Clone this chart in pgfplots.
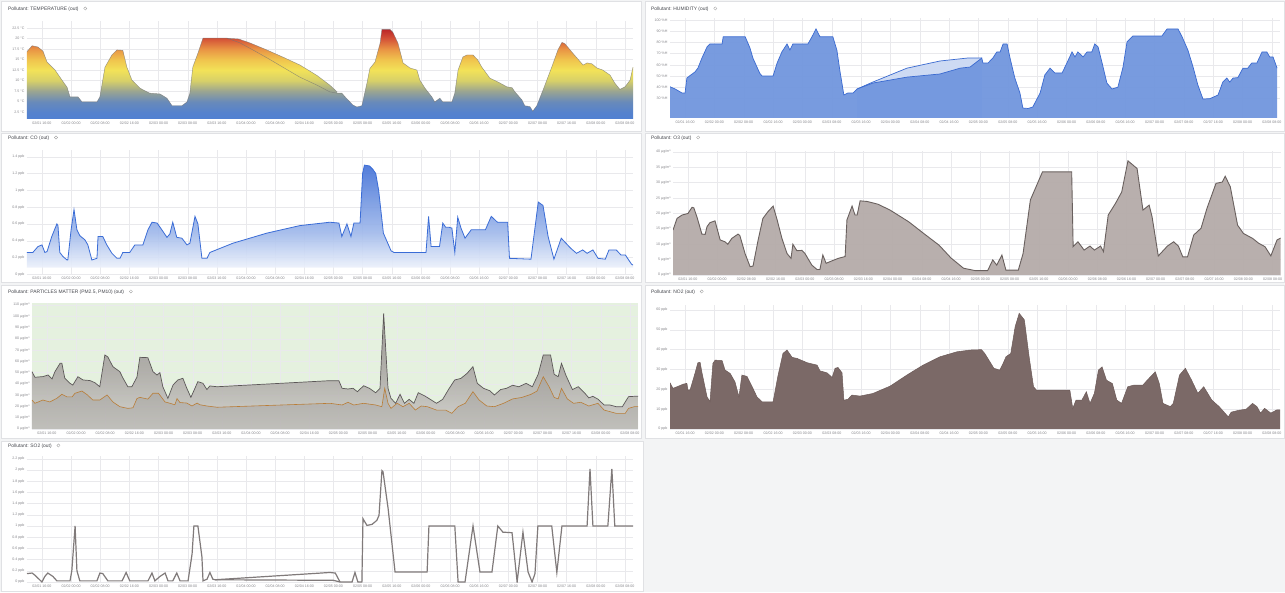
\documentclass[border=0pt]{standalone}
\usepackage{fontspec}
\setmainfont{Liberation Sans}
\usepackage{pgfplots}
\pgfplotsset{compat=1.18}
\usepackage{pgfplotstable}

\definecolor{bgpage}{RGB}{243,244,245}
\definecolor{panelline}{RGB}{224,225,228}
\definecolor{gridc}{RGB}{233,233,236}
\definecolor{ticktext}{RGB}{135,135,140}
\definecolor{titletext}{RGB}{70,72,78}
% temperature gradient
\definecolor{t0}{RGB}{80,128,210}
\definecolor{t1}{RGB}{85,130,205}
\definecolor{t2}{RGB}{105,138,185}
\definecolor{t3}{RGB}{155,165,145}
\definecolor{t4}{RGB}{215,208,105}
\definecolor{t5}{RGB}{242,226,88}
\definecolor{t6}{RGB}{240,196,78}
\definecolor{t7}{RGB}{233,148,68}
\definecolor{t8}{RGB}{212,82,55}
\definecolor{t9}{RGB}{188,38,40}
\pgfdeclareverticalshading{tempmain}{100bp}{color(0bp)=(t0); color(25bp)=(t0); color(28.9bp)=(t1); color(34.7bp)=(t2); color(40.6bp)=(t3); color(46.4bp)=(t4); color(52.3bp)=(t5); color(58.1bp)=(t6); color(64bp)=(t7); color(69.9bp)=(t8); color(75bp)=(t9); color(100bp)=(t9)}
\pgfdeclareverticalshading{templens}{100bp}{color(0bp)=(t0); color(25bp)=(t0); color(29.3bp)=(t1); color(35.8bp)=(t2); color(42.3bp)=(t3); color(48.8bp)=(t4); color(55.3bp)=(t5); color(61.8bp)=(t6); color(68.2bp)=(t7); color(74.7bp)=(t8); color(75bp)=(t8); color(100bp)=(t8)}
% CO gradient
\definecolor{co0}{RGB}{236,241,251}
\definecolor{co1}{RGB}{160,185,235}
\definecolor{co2}{RGB}{65,112,215}
\pgfdeclareverticalshading{coshade}{100bp}{color(0bp)=(co0); color(25bp)=(co0); color(42bp)=(co1); color(75bp)=(co2); color(100bp)=(co2)}
\definecolor{coline}{RGB}{58,108,214}
% humidity
\definecolor{humfill}{RGB}{113,150,222}
\definecolor{humlens}{RGB}{205,218,243}
\definecolor{humline}{RGB}{58,106,208}
% O3
\definecolor{othreefill}{RGB}{181,171,169}
\definecolor{othreeline}{RGB}{105,96,94}
% PM
\definecolor{pmgreen}{RGB}{229,241,223}
\definecolor{pm0}{RGB}{206,204,201}
\definecolor{pm1}{RGB}{165,160,158}
\definecolor{pm2}{RGB}{140,135,133}
\pgfdeclareverticalshading{pmshade}{100bp}{color(0bp)=(pm0); color(25bp)=(pm0); color(50bp)=(pm1); color(75bp)=(pm2); color(100bp)=(pm2)}
\definecolor{pmtenline}{RGB}{92,88,88}
\definecolor{pmtwoline}{RGB}{185,125,55}
% NO2
\definecolor{notwofill}{RGB}{123,105,103}
\definecolor{notwoline}{RGB}{108,90,88}
% SO2
\definecolor{sotwoline}{RGB}{128,122,122}

\pgfplotsset{
  dash/.style={
    scale only axis, anchor=south west,
    xmin=11.9, xmax=178.2,
    xtick={16,24,...,176},
    xticklabels={02/01 16:00,02/02 00:00,02/02 08:00,02/02 16:00,02/03 00:00,02/03 08:00,02/03 16:00,02/04 00:00,02/04 08:00,02/04 16:00,02/05 00:00,02/05 08:00,02/05 16:00,02/06 00:00,02/06 08:00,02/06 16:00,02/07 00:00,02/07 08:00,02/07 16:00,02/08 00:00,02/08 08:00},
    grid=major,
    major grid style={draw=gridc, line width=0.4pt},
    axis line style={draw=none},
    tick style={draw=none},
    tick label style={font=\fontsize{3.6}{4}\selectfont, text=ticktext},
    /pgf/number format/assume math mode=true,
    xticklabel style={yshift=1pt},
    yticklabel style={xshift=1pt},
  },
}
\tikzset{ttl/.style={anchor=west, font=\fontsize{4.9}{5.5}\selectfont, text=titletext, inner sep=0pt}}

% ---------------- data ----------------
\pgfplotstableread[row sep=\\]{
x y\\
11.9 16.9\\ 13.3 18.3\\ 14.9 18.0\\ 16.3 17.0\\ 17.4 14.4\\ 19.6 12.5\\ 21.5 10.1\\ 22.9 8.4\\ 23.7 6.1\\ 25.9 6.1\\
27.0 4.9\\ 31.1 4.9\\ 31.9 6.1\\ 33.3 13.2\\ 35.2 16.1\\ 36.6 17.3\\ 38.2 17.2\\ 39.3 13.2\\ 40.7 10.1\\ 42.9 8.2\\
43.7 7.8\\ 45.6 7.0\\ 48.4 6.8\\ 50.3 5.8\\ 51.7 4.0\\ 54.4 4.0\\ 55.8 4.9\\ 56.6 7.0\\ 57.4 13.2\\ 58.8 16.5\\
60.2 20.1\\ 66.8 20.1\\ 70.3 19.0\\ 73.9 17.3\\ 78.0 15.3\\ 82.1 13.2\\ 86.8 10.8\\ 91.5 8.9\\ 95.0 7.3\\ 97.0 7.0\\
98.3 7.0\\ 99.2 6.1\\ 101.3 4.2\\ 102.4 3.7\\ 103.8 4.0\\ 105.2 9.4\\ 106.0 12.9\\ 107.4 14.4\\ 108.8 18.9\\ 109.3 22.2\\
111.5 22.2\\ 112.3 21.5\\ 113.7 18.9\\ 115.1 14.2\\ 117.0 13.0\\ 118.9 12.5\\ 119.7 10.1\\ 121.1 8.2\\ 123.0 6.1\\ 123.8 4.9\\
125.2 5.8\\ 126.0 4.9\\ 128.5 4.9\\ 129.3 7.0\\ 130.2 12.5\\ 131.5 15.6\\ 132.6 16.1\\ 134.3 16.1\\ 135.6 14.9\\ 136.7 13.2\\
138.9 10.6\\ 141.7 9.4\\ 143.6 8.5\\ 145.0 8.3\\ 145.8 7.3\\ 147.7 5.4\\ 148.5 4.0\\ 149.9 3.8\\ 150.7 2.7\\ 151.8 4.0\\
153.5 7.7\\ 155.9 13.2\\ 157.6 17.3\\ 158.7 19.1\\ 159.5 18.8\\ 161.7 16.5\\ 164.5 13.7\\ 165.6 14.2\\ 166.9 14.0\\ 168.3 13.0\\
169.9 12.5\\ 171.9 11.3\\ 173.2 9.4\\ 174.6 7.9\\ 176.0 8.5\\ 177.4 10.1\\ 178.2 13.2\\
}\Ttemp
\pgfplotstableread[row sep=\\]{
x y\\
66.8 20.1\\ 70.0 19.9\\ 73.0 19.0\\ 77.7 17.3\\ 82.1 15.6\\ 86.8 13.7\\ 91.5 11.2\\ 95.0 8.9\\ 97.0 7.3\\
}\Ttemplens

\pgfplotstableread[row sep=\\]{
x y\\
11.9 40.4\\ 13.3 38.4\\ 15.2 34.8\\ 16.0 34.8\\ 16.5 48.2\\ 17.4 50.5\\ 18.7 53.6\\ 19.5 57\\ 20.6 66\\ 22.0 76\\
22.8 78.6\\ 26.1 78.6\\ 26.4 85\\ 32.4 85\\ 33.7 75\\ 34.5 66\\ 35.6 58\\ 36.4 52.3\\ 37.0 50\\ 40.0 50\\
41.1 61.6\\ 42.4 71.5\\ 43.8 78.6\\ 44.6 73.2\\ 45.4 78.6\\ 49.5 78.6\\ 50.6 85\\ 51.7 92\\ 52.8 85\\ 56.3 85\\
57.4 73\\ 58.2 55\\ 59.3 33\\ 60.4 34.8\\ 61.8 34.8\\ 62.9 38.4\\ 67.2 43.7\\ 76.5 49\\ 85.5 51.8\\ 91.0 57\\
93.7 58\\ 96.9 66\\ 97.2 61.6\\ 98.6 61.6\\ 99.9 66\\ 101.0 71.5\\ 101.9 71.5\\ 102.7 78.6\\ 103.8 78.6\\ 104.6 66\\
105.9 48.2\\ 107.3 34.8\\ 108.1 21.4\\ 109.5 21.0\\ 110.8 22.3\\ 112.8 34.8\\ 114.1 51\\ 115.5 57\\ 116.8 52.7\\ 118.8 52.7\\
120.1 61.6\\ 121.5 71.5\\ 122.3 67\\ 123.1 71.5\\ 124.5 67\\ 125.6 71.5\\ 126.9 71.5\\ 127.7 78.6\\ 128.6 76\\ 129.7 61.6\\
131.0 43.7\\ 132.4 38.4\\ 134.0 40\\ 135.4 58\\ 136.5 80.5\\ 138.1 85.7\\ 146.0 85.7\\ 147.4 92\\ 150.4 92\\ 151.5 85\\
153.1 73\\ 154.5 58\\ 155.8 42\\ 157.2 29.4\\ 159.1 29.8\\ 161.3 33\\ 162.6 44.6\\ 163.7 48.2\\ 164.5 44.6\\ 165.4 48.2\\
166.7 48.5\\ 168.1 57\\ 169.4 57\\ 170.5 61.6\\ 171.9 61.6\\ 173.3 71.5\\ 174.6 71.5\\ 175.4 67\\ 176.3 67\\ 177.4 57\\
}\Thum
\pgfplotstableread[row sep=\\]{
x y\\
62.9 38.4\\ 67.2 44.6\\ 76.5 57\\ 85.5 63.4\\ 92.9 66\\ 96.9 66\\
}\Thumlens

\pgfplotstableread[row sep=\\]{
x y\\
11.9 0.26\\ 13.5 0.26\\ 14.9 0.33\\ 16.0 0.35\\ 16.8 0.26\\ 17.4 0.27\\ 18.7 0.45\\ 20.1 0.6\\ 20.4 0.58\\ 20.9 0.26\\
21.8 0.21\\ 22.9 0.17\\ 23.1 0.17\\ 24.0 0.53\\ 24.8 0.77\\ 25.6 0.53\\ 26.4 0.46\\ 27.8 0.41\\ 28.6 0.35\\ 29.7 0.17\\
31.1 0.19\\ 31.4 0.45\\ 32.7 0.45\\ 33.8 0.35\\ 35.2 0.25\\ 36.6 0.19\\ 37.4 0.19\\ 38.2 0.26\\ 40.1 0.26\\ 41.5 0.35\\
43.7 0.35\\ 45.1 0.53\\ 46.2 0.62\\ 47.6 0.61\\ 48.9 0.53\\ 50.3 0.44\\ 51.1 0.48\\ 51.9 0.62\\ 53.0 0.44\\ 54.4 0.43\\
55.8 0.35\\ 56.6 0.37\\ 58.0 0.69\\ 58.8 0.6\\ 59.9 0.19\\ 61.3 0.19\\ 62.1 0.26\\ 68.4 0.37\\ 77.7 0.49\\ 86.8 0.58\\
95.0 0.62\\ 97.5 0.61\\ 98.3 0.45\\ 99.7 0.6\\ 100.8 0.45\\ 101.6 0.61\\ 103.3 0.61\\ 104.0 1.2\\ 104.5 1.3\\ 105.9 1.29\\
106.8 1.25\\ 107.6 1.2\\ 108.4 1.0\\ 109.7 0.49\\ 111.8 0.28\\ 112.6 0.26\\ 121.4 0.26\\ 122.1 0.69\\ 122.8 0.33\\ 125.1 0.33\\
126.0 0.61\\ 126.8 0.56\\ 127.7 0.56\\ 128.5 0.55\\ 129.3 0.26\\ 130.1 0.68\\ 131.0 0.55\\ 132.1 0.43\\ 133.8 0.53\\ 137.7 0.53\\
139.3 0.69\\ 141.0 0.62\\ 143.8 0.62\\ 144.3 0.19\\ 150.2 0.18\\ 152.2 0.86\\ 153.5 0.82\\ 154.9 0.45\\ 156.5 0.18\\ 158.5 0.43\\
161.1 0.31\\ 162.7 0.25\\ 164.4 0.29\\ 165.6 0.25\\ 167.2 0.29\\ 168.6 0.19\\ 170.6 0.18\\ 171.6 0.29\\ 173.6 0.29\\ 174.9 0.23\\
176.1 0.23\\ 177.8 0.12\\ 178.2 0.11\\
}\Tco

\pgfplotstableread[row sep=\\]{
x y\\
11.9 14.6\\ 13.0 18.4\\ 14.4 19.5\\ 16.0 20\\ 17.1 22\\ 17.6 21.8\\ 18.5 18.7\\ 19.8 13.3\\ 20.7 13.2\\ 21.2 15.7\\
22.0 17\\ 23.4 17.6\\ 24.8 11.4\\ 26.1 10.8\\ 26.9 10\\ 28.0 11.9\\ 29.7 13.3\\ 30.2 12.8\\ 31.6 7\\ 33.0 2.7\\
33.8 2.9\\ 35.2 11.4\\ 36.5 18.4\\ 37.9 20.6\\ 39.3 22.4\\ 40.4 17.9\\ 41.7 11.9\\ 43.1 7\\ 44.2 5.4\\ 44.7 10\\
45.8 7.9\\ 47.2 8.0\\ 48.0 7.0\\ 49.9 3.2\\ 51.3 1.8\\ 52.1 1.8\\ 52.9 6.5\\ 53.8 3.8\\ 55.4 4.6\\ 57.1 5.4\\
59.0 6.0\\ 59.5 17.9\\ 60.9 22.4\\ 61.7 19.5\\ 62.3 19.5\\ 63.1 24.1\\ 65.0 23.9\\ 68.0 23.0\\ 71.3 21.1\\ 76.4 17.3\\
80.5 13.5\\ 84.7 9.7\\ 88.0 5.5\\ 91.4 2.2\\ 94.7 1.4\\ 98.0 1.4\\ 99.4 4.9\\ 100.5 3.2\\ 101.9 6.5\\ 103.0 1.6\\
106.4 1.6\\ 107.7 7.0\\ 109.7 24.4\\ 113.0 33.5\\ 121.0 33.5\\ 121.4 9.2\\ 122.7 10.8\\ 124.4 8.1\\ 126.0 9.4\\ 127.2 8.1\\
128.9 9.4\\ 129.7 7.6\\ 131.0 19.5\\ 133.0 23.3\\ 134.7 27\\ 136.4 37.1\\ 138.9 34.6\\ 140.5 21.1\\ 142.2 22.7\\ 143.0 18.9\\
144.7 6.2\\ 147.2 9.4\\ 148.9 10.8\\ 150.2 9.4\\ 151.4 5.9\\ 152.7 5.9\\ 154.4 13\\ 156.4 15.2\\ 158.0 21.6\\ 160.5 29.8\\
162.2 30.2\\ 163.0 32.1\\ 164.4 28.7\\ 166.4 16.2\\ 168.0 13.5\\ 170.5 11.9\\ 172.2 10.3\\ 173.9 9.2\\ 175.5 6.2\\ 177.2 11.4\\
178.2 12\\
}\Tothree

\pgfplotstableread[row sep=\\]{
x y\\
11.9 50.9\\ 12.7 45.9\\ 14.9 46.5\\ 16.3 47.9\\ 17.4 44.4\\ 18.2 50.9\\ 19.6 58.3\\ 20.1 58.3\\ 20.9 45\\ 22.3 40.6\\
23.1 39\\ 24.5 46.4\\ 25.9 43.5\\ 27.8 43\\ 29.2 41\\ 30.5 37.5\\ 31.9 65.7\\ 32.7 64\\ 34.1 55.3\\ 36.0 50.9\\
36.9 45\\ 38.2 37.5\\ 39.3 37.5\\ 40.7 46\\ 41.5 63.6\\ 43.7 63.3\\ 45.1 50.9\\ 46.2 47.9\\ 47.0 50\\ 47.8 37.5\\
49.2 27.2\\ 50.6 39\\ 51.9 43.5\\ 53.3 45\\ 54.4 36\\ 55.5 28.1\\ 56.6 36\\ 57.4 42\\ 58.8 40.6\\ 59.9 35\\
60.7 38.2\\ 62.7 37.5\\ 93.7 42.9\\ 96.1 42.9\\ 97.0 36.1\\ 98.6 35.5\\ 100.0 36.1\\ 101.2 33.1\\ 102.9 38.4\\ 104.5 36.1\\
106.2 32.2\\ 107.4 36.1\\ 108.4 102.6\\ 109.6 36.1\\ 110.4 27.2\\ 111.7 22.8\\ 112.9 30.8\\ 114.1 22.8\\ 115.4 26.3\\ 116.7 22.8\\
117.9 32.2\\ 119.6 29.5\\ 121.2 26.3\\ 122.9 22.8\\ 124.6 26.3\\ 126.3 35.6\\ 127.9 43.5\\ 129.6 44.9\\ 131.3 49.4\\ 132.9 55.3\\
134.1 40.5\\ 135.8 36.1\\ 137.5 34\\ 138.8 30.2\\ 140.5 35\\ 142.1 36.1\\ 143.8 38.8\\ 145.5 37.5\\ 147.5 40.5\\ 149.2 37.5\\
150.8 48.5\\ 152.2 65.7\\ 154.2 65.7\\ 155.2 48.5\\ 156.3 46.4\\ 157.2 58.3\\ 158.5 47\\ 160.2 35\\ 161.8 37.5\\ 163.5 32.2\\
164.7 27.6\\ 165.8 29\\ 167.2 26.5\\ 168.9 21.3\\ 170.5 21.3\\ 172.2 19.8\\ 173.9 19.8\\ 175.6 28.7\\ 177.2 29\\ 178.2 29\\
}\Tpmten
\pgfplotstableread[row sep=\\]{
x y\\
11.9 25.7\\ 12.7 22.8\\ 14.9 25.7\\ 16.8 24\\ 18.7 27.2\\ 20.1 30.8\\ 21.5 28.5\\ 22.9 28.5\\ 23.7 31.7\\ 25.6 33.7\\
27.0 30.5\\ 28.6 25.7\\ 30.5 25.7\\ 32.5 30.2\\ 34.1 24\\ 36.0 19.8\\ 38.2 18.3\\ 39.6 18.8\\ 40.7 27\\ 41.5 28.1\\
43.7 26.5\\ 45.1 31.7\\ 46.6 31.7\\ 48.4 24\\ 49.8 22.8\\ 51.1 21.5\\ 51.7 27\\ 52.5 23.5\\ 54.4 23\\ 55.8 20.4\\
57.2 23\\ 58.0 21.5\\ 59.9 20.4\\ 62.7 19.3\\ 93.7 22.8\\ 97.0 21.3\\ 98.6 23.7\\ 100.2 21.3\\ 102.9 22.8\\ 106.2 21.3\\
107.9 19.8\\ 108.7 36.1\\ 109.6 22.8\\ 110.4 18.3\\ 112.1 22.8\\ 113.7 19.8\\ 115.4 22.8\\ 117.1 16.8\\ 118.7 20.4\\ 120.4 19.8\\
122.9 16.8\\ 125.4 16.8\\ 127.1 13.9\\ 128.8 19.8\\ 130.8 22.8\\ 132.9 33.1\\ 134.6 25.7\\ 136.7 20.4\\ 138.8 19.8\\ 141.3 22.8\\
143.8 26.7\\ 146.3 28\\ 148.8 30.7\\ 150.5 33.7\\ 152.2 46.4\\ 153.8 37.5\\ 155.2 28\\ 156.3 26.7\\ 157.2 36.1\\ 158.8 26.7\\
160.5 22.8\\ 162.5 23.7\\ 164.7 20.4\\ 167.2 22.8\\ 168.9 16.8\\ 172.2 13.9\\ 174.7 13.9\\ 175.6 18.3\\ 177.2 19.8\\ 178.2 19.8\\
}\Tpmtwo

\pgfplotstableread[row sep=\\]{
x y\\
11.9 23.3\\ 12.7 20.5\\ 14.1 21.5\\ 15.5 22.6\\ 16.5 23\\ 16.8 19.6\\ 17.4 19.8\\ 18.7 28\\ 19.5 33.4\\ 20.1 33.6\\
20.6 28.5\\ 22.0 16.2\\ 22.8 13.7\\ 23.6 33.1\\ 24.2 34.7\\ 26.1 34.5\\ 26.9 29.7\\ 28.3 28\\ 29.6 23.8\\ 30.7 16.2\\
31.5 27.2\\ 32.9 26.5\\ 34.3 21.3\\ 35.6 16.2\\ 37.0 13.7\\ 40.0 13.7\\ 41.3 26.5\\ 42.7 38.1\\ 43.8 39.8\\ 45.2 36.1\\
46.5 35.6\\ 49.3 33.4\\ 52.0 32.2\\ 52.8 29.3\\ 54.7 28.3\\ 56.1 26\\ 56.9 30.6\\ 57.7 31\\ 58.8 28.3\\ 59.3 14.5\\
60.4 15\\ 61.5 17.1\\ 63.7 16.6\\ 67.2 17.9\\ 71.9 21.6\\ 76.5 27.2\\ 80.9 32.2\\ 85.5 36.4\\ 90.1 38.9\\ 93.7 39.8\\
96.8 40\\ 97.7 38.1\\ 100.2 30.6\\ 101.8 29.7\\ 102.7 33\\ 103.5 36.4\\ 104.8 38.1\\ 106.0 51.6\\ 107.1 58.3\\ 108.5 55\\
109.8 36.4\\ 111.0 21.3\\ 111.8 19.6\\ 120.9 19.6\\ 121.7 10.4\\ 122.6 14.6\\ 124.2 14.6\\ 125.4 18.8\\ 126.4 12.9\\ 127.6 18\\
128.7 29.7\\ 129.7 31.3\\ 130.9 24.6\\ 132.5 22.9\\ 133.7 14.6\\ 135.0 12.9\\ 136.7 21.3\\ 138.3 22.1\\ 140.8 22.1\\ 142.0 24.6\\
144.2 28.8\\ 145.3 22.9\\ 146.3 12.9\\ 148.3 11.3\\ 149.1 12.9\\ 150.8 27.2\\ 152.4 30.6\\ 154.1 24.6\\ 155.8 18\\ 157.4 21.3\\
159.6 14.6\\ 161.6 11.3\\ 164.1 6.1\\ 164.9 8.5\\ 166.9 9.4\\ 169.0 10\\ 170.7 12.9\\ 171.9 11.3\\ 172.9 8\\ 174.0 10.4\\
175.7 8\\ 177.3 9.6\\ 178.2 9.6\\
}\Tnotwo

\pgfplotstableread[row sep=\\]{
x y\\
11.9 0.15\\ 13.3 0.16\\ 14.1 0.12\\ 16.0 0.0\\ 16.8 0.1\\ 17.6 0.16\\ 19.0 0.1\\ 20.1 0.02\\ 23.7 0.02\\ 24.2 0.2\\
25.1 1.0\\ 25.6 0.2\\ 26.4 0.02\\ 31.1 0.02\\ 31.9 0.16\\ 32.7 0.15\\ 34.1 0.02\\ 38.0 0.02\\ 39.1 0.17\\ 40.1 0.02\\
45.1 0.02\\ 46.2 0.16\\ 47.0 0.02\\ 48.4 0.1\\ 49.8 0.16\\ 50.6 0.02\\ 51.9 0.02\\ 53.0 0.16\\ 53.9 0.02\\ 56.1 0.02\\
57.2 0.5\\ 57.7 1.0\\ 58.8 1.0\\ 59.9 0.45\\ 60.2 0.02\\ 61.3 0.05\\ 62.1 0.17\\ 62.9 0.05\\ 63.5 0.04\\ 96.0 0.03\\
97.8 0.0\\ 101.1 0.0\\ 101.9 0.17\\ 102.7 0.0\\ 103.8 0.0\\ 104.1 1.13\\ 105.2 1.01\\ 106.6 1.03\\ 107.9 1.1\\ 108.5 1.19\\
109.3 1.99\\ 109.6 1.97\\ 111.0 1.31\\ 112.9 0.18\\ 121.7 0.18\\ 122.2 1.0\\ 129.3 1.0\\ 130.2 0.0\\ 132.1 0.0\\ 134.3 1.0\\
136.2 0.18\\ 139.5 0.18\\ 141.1 1.0\\ 142.5 0.89\\ 145.0 0.88\\ 145.3 0.7\\ 146.4 0.0\\ 148.0 0.89\\ 149.4 0.18\\ 150.5 0.0\\
151.3 0.15\\ 152.1 1.0\\ 155.9 1.0\\ 157.3 0.17\\ 158.7 1.0\\ 165.6 1.0\\ 166.4 2.02\\ 167.2 1.0\\ 171.3 1.0\\ 172.4 2.02\\
173.2 1.0\\ 178.2 1.0\\
}\Tsotwo
\pgfplotstableread[row sep=\\]{
x y\\
63.5 0.04\\ 95.0 0.17\\ 96.5 0.16\\ 97.8 0.0\\
}\Tsotwolens

\begin{document}
\begin{tikzpicture}[x=1pt,y=1pt]
\path[use as bounding box] (0,0) rectangle (1285,592);
\fill[bgpage] (0,0) rectangle (1285,592);
% panels
\foreach \a/\b/\c/\d in {1/461/641/591, 645/461/1284/591, 1/310/641/459, 645/310/1284/459, 1/154/641/307, 645/154/1284/307, 1/1/643/151}
  \filldraw[fill=white, draw=panelline, line width=0.5pt] (\a,\b) rectangle (\c,\d);

% titles
\node[ttl] at (8,583) {Pollutant: TEMPERATURE (out)\hspace{5pt}\tikz[baseline=-0.7ex]\draw[black!40,line width=0.3pt] (0,0) circle (1.6pt);};
\node[ttl] at (651,583) {Pollutant: HUMIDITY (out)\hspace{5pt}\tikz[baseline=-0.7ex]\draw[black!40,line width=0.3pt] (0,0) circle (1.6pt);};
\node[ttl] at (8,454) {Pollutant: CO (out)\hspace{5pt}\tikz[baseline=-0.7ex]\draw[black!40,line width=0.3pt] (0,0) circle (1.6pt);};
\node[ttl] at (651,454) {Pollutant: O3 (out)\hspace{5pt}\tikz[baseline=-0.7ex]\draw[black!40,line width=0.3pt] (0,0) circle (1.6pt);};
\node[ttl] at (8,300) {Pollutant: PARTICLES MATTER (PM2.5, PM10) (out)\hspace{5pt}\tikz[baseline=-0.7ex]\draw[black!40,line width=0.3pt] (0,0) circle (1.6pt);};
\node[ttl] at (651,300) {Pollutant: NO2 (out)\hspace{5pt}\tikz[baseline=-0.7ex]\draw[black!40,line width=0.3pt] (0,0) circle (1.6pt);};
\node[ttl] at (8,146) {Pollutant: SO2 (out)\hspace{5pt}\tikz[baseline=-0.7ex]\draw[black!40,line width=0.3pt] (0,0) circle (1.6pt);};

% ---- TEMPERATURE ----
\begin{axis}[dash, at={(27pt,473pt)}, width=606pt, height=98pt, ymin=0.84, ymax=24.2,
  ytick={2.5,5,...,22.5}, yticklabels={2.5 °C,5 °C,7.5 °C,10 °C,12.5 °C,15 °C,17.5 °C,20 °C,22.5 °C}]
\addplot[draw=none, shading=templens] table {\Ttemplens} |- (axis cs:66.8,0.84) -- cycle;
\addplot[draw=none, shading=tempmain] table {\Ttemp} |- (axis cs:11.9,0.84) -- cycle;
\addplot[black!55, line width=0.45pt, opacity=0.7] table {\Ttemplens};
\addplot[black!55, line width=0.45pt, opacity=0.7] table {\Ttemp};
\end{axis}

% ---- HUMIDITY ----
\begin{axis}[dash, at={(670pt,474pt)}, width=610pt, height=100pt, ymin=12.5, ymax=101.8,
  ytick={30,40,...,100}, yticklabels={30 \%H,40 \%H,50 \%H,60 \%H,70 \%H,80 \%H,90 \%H,100 \%H}]
\addplot[draw=none, fill=humlens] table {\Thumlens} |- (axis cs:62.9,12.5) -- cycle;
\addplot[humline, line width=0.7pt] table {\Thumlens};
\addplot[draw=none, fill=humfill, fill opacity=0.95] table {\Thum} |- (axis cs:11.9,12.5) -- cycle;
\addplot[humline, line width=0.7pt] table {\Thum};
\end{axis}

% ---- CO ----
\begin{axis}[dash, at={(27pt,317.7pt)}, width=606pt, height=124.3pt, ymin=0, ymax=1.48,
  ytick={0,0.2,0.4,0.6,0.8,1,1.2,1.4}, yticklabels={0 ppb,0.2 ppb,0.4 ppb,0.6 ppb,0.8 ppb,1 ppb,1.2 ppb,1.4 ppb}]
\addplot[draw=none, shading=coshade, fill opacity=0.9] table {\Tco} |- (axis cs:11.9,0.08) -- cycle;
\addplot[coline, line width=0.8pt] table {\Tco};
\end{axis}

% ---- O3 ----
\begin{axis}[dash, at={(673pt,317pt)}, width=607.7pt, height=124pt, ymin=0, ymax=40.3,
  ytick={0,5,...,40}, yticklabels={0 µg/m³,5 µg/m³,10 µg/m³,15 µg/m³,20 µg/m³,25 µg/m³,30 µg/m³,35 µg/m³,40 µg/m³}]
\addplot[draw=none, fill=othreefill, fill opacity=0.95] table {\Tothree} |- (axis cs:11.9,0) -- cycle;
\addplot[othreeline, line width=0.9pt] table {\Tothree};
\end{axis}

% ---- PM ----
\begin{axis}[dash, at={(32pt,163pt)}, width=606pt, height=126pt, ymin=0, ymax=111.8,
  axis background/.style={fill=pmgreen},
  ytick={0,10,...,110}, yticklabels={0 µg/m³,10 µg/m³,20 µg/m³,30 µg/m³,40 µg/m³,50 µg/m³,60 µg/m³,70 µg/m³,80 µg/m³,90 µg/m³,100 µg/m³,110 µg/m³}]
\addplot[draw=none, shading=pmshade, fill opacity=0.8] table {\Tpmten} |- (axis cs:11.9,0) -- cycle;
\addplot[draw=none, fill=pm2, fill opacity=0.25] table {\Tpmtwo} |- (axis cs:11.9,0) -- cycle;
\addplot[pmtenline, line width=0.7pt] table {\Tpmten};
\addplot[pmtwoline, line width=0.6pt] table {\Tpmtwo};
\end{axis}

% ---- NO2 ----
\begin{axis}[dash, at={(670pt,163pt)}, width=610pt, height=124pt, ymin=0, ymax=62.5,
  ytick={0,10,...,60}, yticklabels={0 ppb,10 ppb,20 ppb,30 ppb,40 ppb,50 ppb,60 ppb}]
\addplot[draw=none, fill=notwofill] table {\Tnotwo} |- (axis cs:11.9,0) -- cycle;
\addplot[notwoline, line width=0.5pt] table {\Tnotwo};
\end{axis}

% ---- SO2 ----
\begin{axis}[dash, at={(27pt,10pt)}, width=606pt, height=126pt, ymin=0, ymax=2.25,
  ytick={0,0.2,0.4,0.6,0.8,1,1.2,1.4,1.6,1.8,2,2.2}, yticklabels={0 ppb,0.2 ppb,0.4 ppb,0.6 ppb,0.8 ppb,1 ppb,1.2 ppb,1.4 ppb,1.6 ppb,1.8 ppb,2 ppb,2.2 ppb}]
\addplot[sotwoline, line width=1.2pt] table {\Tsotwolens};
\addplot[sotwoline, line width=1.2pt] table {\Tsotwo};
\end{axis}
\end{tikzpicture}
\end{document}
